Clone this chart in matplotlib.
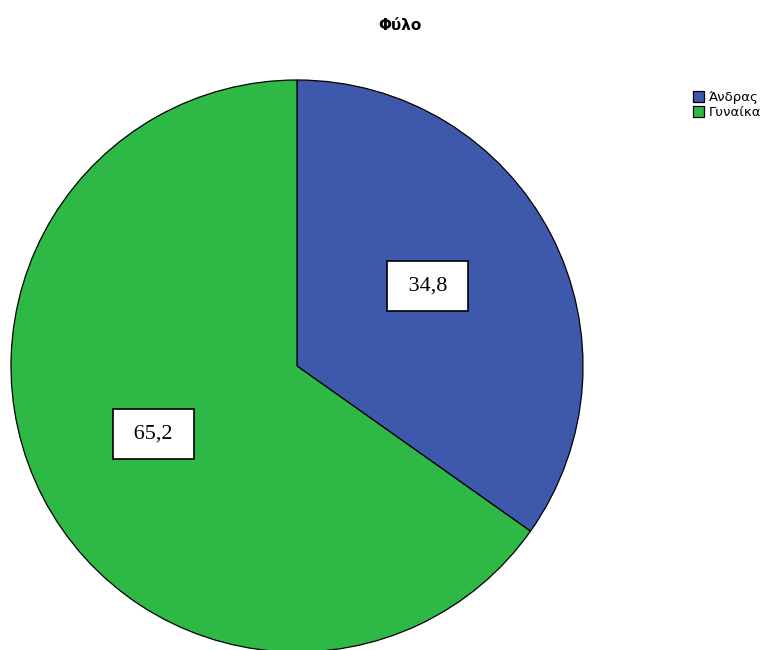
import matplotlib
matplotlib.use('Agg')
import matplotlib.pyplot as plt

# Φύλο δείγματος (%)
categories = ['Άνδρας', 'Γυναίκα']
percent = [34.8, 65.2]
colors = ['#3e58ac', '#2eb845']

W, H = 770, 650
fig = plt.figure(figsize=(W / 100, H / 100), dpi=100)
ax = fig.add_axes([0, 0, 1, 1])

wedges, texts, autotexts = ax.pie(
    percent, colors=colors, startangle=90, counterclock=False,
    center=(297, H - 366), radius=286, frame=True,
    autopct=lambda p: ' ' + f'{p:.1f}'.replace('.', ',') + ' ',
    pctdistance=0.53,
    wedgeprops=dict(edgecolor='black', linewidth=0.9),
    textprops=dict(family='Liberation Serif', fontsize=16, color='black'),
)
ax.set_xlim(0, W)
ax.set_ylim(0, H)
ax.set_aspect('equal', adjustable='datalim')
ax.axis('off')

# μικρή μετατόπιση των ετικετών και πλαίσιο γύρω τους
nudges = [(-4, 10), (-9, 2)]
for t, (dx, dy) in zip(autotexts, nudges):
    x, y = t.get_position()
    t.set_position((x + dx, y + dy))
    t.set_bbox(dict(boxstyle='square,pad=0.7', facecolor='white',
                    edgecolor='black', linewidth=1.2))

fig.text(400 / W, 1 - 25 / H, 'Φύλο', ha='center', va='center',
         fontsize=11, fontweight='bold', family='DejaVu Sans')

fig.legend(wedges, categories, loc='upper left',
           bbox_to_anchor=(686 / W, 1 - 84 / H), frameon=False,
           handlelength=0.9, handleheight=0.9,
           handletextpad=0.3, labelspacing=0.2, borderpad=0,
           prop=dict(family='DejaVu Sans', size=9.5))

fig.savefig('out.png', dpi=100)
